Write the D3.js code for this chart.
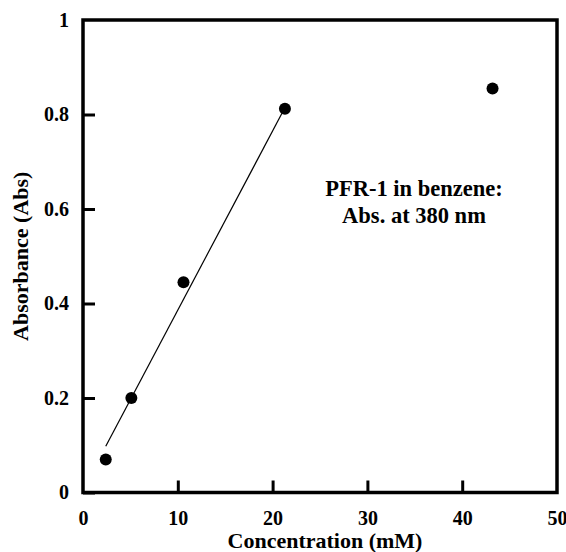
<!DOCTYPE html>
<html>
<head>
<meta charset="utf-8">
<script src="https://cdn.jsdelivr.net/npm/d3@7"></script>
<style>
  body { margin: 0; background: #fff; }
  svg text { font-family: "Liberation Serif", "Times New Roman", serif; font-weight: bold; fill: #000; }
</style>
</head>
<body>
<div id="chart"></div>
<script>
// measured points
const conc = [2.4, 5.1, 10.6, 21.3, 43.2];
const absorb = [0.07, 0.2, 0.445, 0.812, 0.855];
// linear fit drawn over the first four points
const fitX = [2.4, 21.0];
const fitY = [0.098, 0.803];
const xTicks = [0, 10, 20, 30, 40, 50];
const yTicks = [0, 0.2, 0.4, 0.6, 0.8, 1];
const note = ["PFR-1 in benzene:", "Abs. at 380 nm"];

const W = 566, H = 552;
const margin = {top: 20, right: 9, bottom: 60, left: 83};

const svg = d3.select("#chart").append("svg")
    .attr("width", W)
    .attr("height", H);

const x = d3.scaleLinear().domain([0, 50]).range([margin.left, W - margin.right]);
const y = d3.scaleLinear().domain([0, 1]).range([H - margin.bottom + 0.5, margin.top]);

// x axis, ticks pointing in
const gx = svg.append("g")
    .attr("transform", "translate(0," + y(0) + ")")
    .call(d3.axisBottom(x).tickValues(xTicks).tickSize(-12).tickPadding(18).tickFormat(d3.format("d")));
gx.select(".domain").remove();
gx.selectAll("line").attr("stroke-width", 3);
gx.selectAll("text").style("font-size", "20px");

// y axis
const gy = svg.append("g")
    .attr("transform", "translate(" + x(0) + ",0)")
    .call(d3.axisLeft(y).tickValues(yTicks).tickSize(-12).tickPadding(14).tickFormat(d => d === 0 || d === 1 ? d : d.toFixed(1)));
gy.select(".domain").remove();
gy.selectAll("line").attr("stroke-width", 3);
gy.selectAll("text").style("font-size", "20px");
gy.selectAll(".tick").filter(d => d === 1).select("line").remove();
gx.selectAll(".tick").filter(d => d === 0 || d === 50).select("line").remove();

// frame
svg.append("rect")
    .attr("x", x(0)).attr("y", y(1))
    .attr("width", x(50) - x(0)).attr("height", y(0) - y(1))
    .attr("fill", "none").attr("stroke", "#000").attr("stroke-width", 3.5);

// fit line
svg.append("line")
    .attr("x1", x(fitX[0])).attr("y1", y(fitY[0]))
    .attr("x2", x(fitX[1])).attr("y2", y(fitY[1]))
    .attr("stroke", "#000").attr("stroke-width", 1.2);

// points
svg.append("g").selectAll("circle")
    .data(conc)
    .enter().append("circle")
    .attr("cx", d => x(d))
    .attr("cy", (d, i) => y(absorb[i]))
    .attr("r", 6)
    .attr("fill", "#000");

// note
svg.append("g").selectAll("text")
    .data(note)
    .enter().append("text")
    .attr("x", 414)
    .attr("y", (d, i) => 196 + i * 27)
    .attr("text-anchor", "middle")
    .style("font-size", "22.5px")
    .text(d => d);

// axis titles
svg.append("text")
    .attr("x", (x(0) + x(50)) / 2 + 5)
    .attr("y", 548)
    .attr("text-anchor", "middle")
    .style("font-size", "22px")
    .text("Concentration (mM)");

svg.append("text")
    .attr("text-anchor", "middle")
    .style("font-size", "22px")
    .attr("transform", "translate(28," + ((y(0) + y(1)) / 2) + ") rotate(-90)")
    .text("Absorbance (Abs)");
</script>
</body>
</html>
